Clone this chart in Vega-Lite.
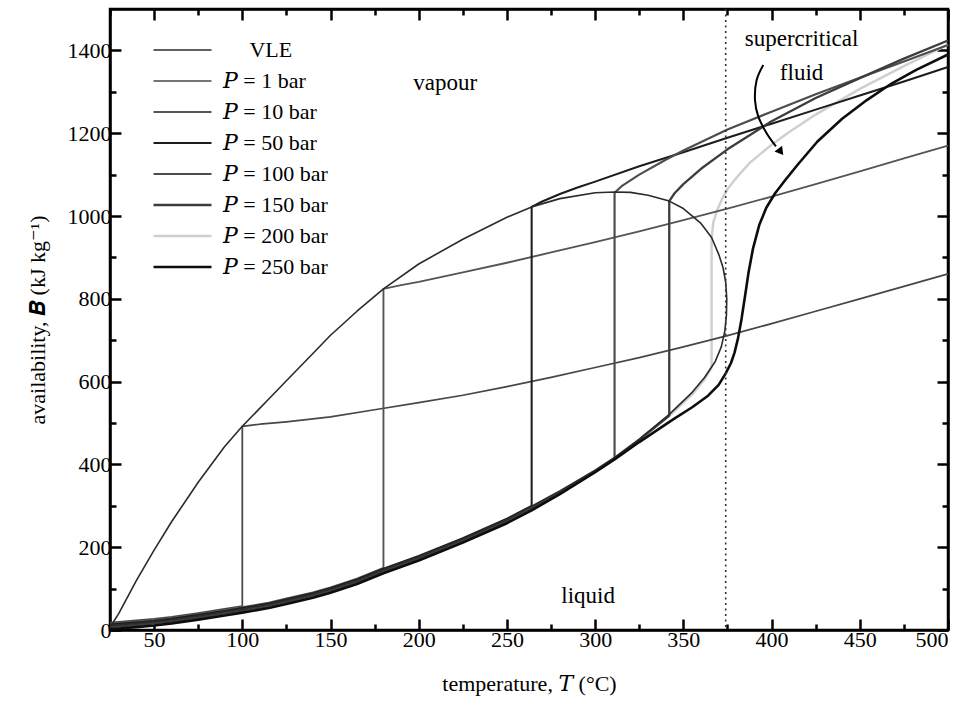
{
  "$schema": "https://vega.github.io/schema/vega-lite/v6.json",
  "width": 838,
  "height": 621,
  "autosize": {"type": "none"},
  "padding": {"left": 110, "top": 9, "right": 26, "bottom": 78},
  "background": "white",
  "config": {
    "font": "Liberation Serif, DejaVu Serif",
    "view": {"stroke": "black", "strokeWidth": 2.5},
    "axis": {
      "grid": false,
      "domainColor": "black",
      "domainWidth": 2.5,
      "tickColor": "black",
      "tickWidth": 2.5,
      "labelFont": "Liberation Serif, DejaVu Serif",
      "labelFontSize": 22,
      "labelColor": "black",
      "labelOverlap": false,
      "titleFont": "Liberation Serif, DejaVu Serif",
      "titleFontSize": 22,
      "titleFontWeight": "normal",
      "titleColor": "black"
    }
  },
  "datasets": {
    "curves": [
      {"s": "𝑃 = 200 bar", "T": 25, "B": 4}, {"s": "𝑃 = 200 bar", "T": 40, "B": 9}, {"s": "𝑃 = 200 bar", "T": 50, "B": 13}, {"s": "𝑃 = 200 bar", "T": 60, "B": 18}, {"s": "𝑃 = 200 bar", "T": 75, "B": 27}, {"s": "𝑃 = 200 bar", "T": 90, "B": 37}, {"s": "𝑃 = 200 bar", "T": 100, "B": 44}, {"s": "𝑃 = 200 bar", "T": 115, "B": 55}, {"s": "𝑃 = 200 bar", "T": 125, "B": 65}, {"s": "𝑃 = 200 bar", "T": 140, "B": 80}, {"s": "𝑃 = 200 bar", "T": 150, "B": 92}, {"s": "𝑃 = 200 bar", "T": 165, "B": 113}, {"s": "𝑃 = 200 bar", "T": 180, "B": 139}, {"s": "𝑃 = 200 bar", "T": 200, "B": 170}, {"s": "𝑃 = 200 bar", "T": 225, "B": 213}, {"s": "𝑃 = 200 bar", "T": 250, "B": 260}, {"s": "𝑃 = 200 bar", "T": 264, "B": 291}, {"s": "𝑃 = 200 bar", "T": 280, "B": 330}, {"s": "𝑃 = 200 bar", "T": 300, "B": 382}, {"s": "𝑃 = 200 bar", "T": 311, "B": 413}, {"s": "𝑃 = 200 bar", "T": 325, "B": 458}, {"s": "𝑃 = 200 bar", "T": 342, "B": 517}, {"s": "𝑃 = 200 bar", "T": 355, "B": 569}, {"s": "𝑃 = 200 bar", "T": 362, "B": 605}, {"s": "𝑃 = 200 bar", "T": 366, "B": 634}, {"s": "𝑃 = 200 bar", "T": 366, "B": 948}, {"s": "𝑃 = 200 bar", "T": 367, "B": 985}, {"s": "𝑃 = 200 bar", "T": 369, "B": 1012}, {"s": "𝑃 = 200 bar", "T": 372, "B": 1042}, {"s": "𝑃 = 200 bar", "T": 375, "B": 1065}, {"s": "𝑃 = 200 bar", "T": 380, "B": 1092}, {"s": "𝑃 = 200 bar", "T": 388, "B": 1130}, {"s": "𝑃 = 200 bar", "T": 400, "B": 1172}, {"s": "𝑃 = 200 bar", "T": 410, "B": 1203}, {"s": "𝑃 = 200 bar", "T": 425, "B": 1245}, {"s": "𝑃 = 200 bar", "T": 450, "B": 1307}, {"s": "𝑃 = 200 bar", "T": 475, "B": 1362}, {"s": "𝑃 = 200 bar", "T": 500, "B": 1414},

      {"s": "𝑃 = 1 bar", "T": 25, "B": 18}, {"s": "𝑃 = 1 bar", "T": 40, "B": 23}, {"s": "𝑃 = 1 bar", "T": 50, "B": 27}, {"s": "𝑃 = 1 bar", "T": 60, "B": 32}, {"s": "𝑃 = 1 bar", "T": 75, "B": 41}, {"s": "𝑃 = 1 bar", "T": 90, "B": 51}, {"s": "𝑃 = 1 bar", "T": 100, "B": 58}, {"s": "𝑃 = 1 bar", "T": 100, "B": 492}, {"s": "𝑃 = 1 bar", "T": 110, "B": 497}, {"s": "𝑃 = 1 bar", "T": 125, "B": 503}, {"s": "𝑃 = 1 bar", "T": 150, "B": 515}, {"s": "𝑃 = 1 bar", "T": 175, "B": 532}, {"s": "𝑃 = 1 bar", "T": 200, "B": 549}, {"s": "𝑃 = 1 bar", "T": 225, "B": 567}, {"s": "𝑃 = 1 bar", "T": 250, "B": 588}, {"s": "𝑃 = 1 bar", "T": 275, "B": 610}, {"s": "𝑃 = 1 bar", "T": 300, "B": 634}, {"s": "𝑃 = 1 bar", "T": 325, "B": 658}, {"s": "𝑃 = 1 bar", "T": 350, "B": 684}, {"s": "𝑃 = 1 bar", "T": 375, "B": 711}, {"s": "𝑃 = 1 bar", "T": 400, "B": 740}, {"s": "𝑃 = 1 bar", "T": 425, "B": 770}, {"s": "𝑃 = 1 bar", "T": 450, "B": 800}, {"s": "𝑃 = 1 bar", "T": 475, "B": 830}, {"s": "𝑃 = 1 bar", "T": 500, "B": 860},

      {"s": "𝑃 = 10 bar", "T": 25, "B": 15}, {"s": "𝑃 = 10 bar", "T": 40, "B": 20}, {"s": "𝑃 = 10 bar", "T": 50, "B": 24}, {"s": "𝑃 = 10 bar", "T": 60, "B": 29}, {"s": "𝑃 = 10 bar", "T": 75, "B": 38}, {"s": "𝑃 = 10 bar", "T": 90, "B": 48}, {"s": "𝑃 = 10 bar", "T": 100, "B": 55}, {"s": "𝑃 = 10 bar", "T": 115, "B": 66}, {"s": "𝑃 = 10 bar", "T": 125, "B": 76}, {"s": "𝑃 = 10 bar", "T": 140, "B": 91}, {"s": "𝑃 = 10 bar", "T": 150, "B": 103}, {"s": "𝑃 = 10 bar", "T": 165, "B": 124}, {"s": "𝑃 = 10 bar", "T": 180, "B": 150}, {"s": "𝑃 = 10 bar", "T": 180, "B": 824}, {"s": "𝑃 = 10 bar", "T": 190, "B": 833}, {"s": "𝑃 = 10 bar", "T": 200, "B": 841}, {"s": "𝑃 = 10 bar", "T": 225, "B": 864}, {"s": "𝑃 = 10 bar", "T": 250, "B": 887}, {"s": "𝑃 = 10 bar", "T": 275, "B": 912}, {"s": "𝑃 = 10 bar", "T": 300, "B": 937}, {"s": "𝑃 = 10 bar", "T": 325, "B": 963}, {"s": "𝑃 = 10 bar", "T": 350, "B": 990}, {"s": "𝑃 = 10 bar", "T": 375, "B": 1018}, {"s": "𝑃 = 10 bar", "T": 400, "B": 1047}, {"s": "𝑃 = 10 bar", "T": 425, "B": 1077}, {"s": "𝑃 = 10 bar", "T": 450, "B": 1108}, {"s": "𝑃 = 10 bar", "T": 475, "B": 1139}, {"s": "𝑃 = 10 bar", "T": 500, "B": 1170},

      {"s": "𝑃 = 50 bar", "T": 25, "B": 13}, {"s": "𝑃 = 50 bar", "T": 40, "B": 18}, {"s": "𝑃 = 50 bar", "T": 50, "B": 22}, {"s": "𝑃 = 50 bar", "T": 60, "B": 27}, {"s": "𝑃 = 50 bar", "T": 75, "B": 36}, {"s": "𝑃 = 50 bar", "T": 90, "B": 46}, {"s": "𝑃 = 50 bar", "T": 100, "B": 53}, {"s": "𝑃 = 50 bar", "T": 115, "B": 64}, {"s": "𝑃 = 50 bar", "T": 125, "B": 74}, {"s": "𝑃 = 50 bar", "T": 140, "B": 89}, {"s": "𝑃 = 50 bar", "T": 150, "B": 101}, {"s": "𝑃 = 50 bar", "T": 165, "B": 122}, {"s": "𝑃 = 50 bar", "T": 180, "B": 148}, {"s": "𝑃 = 50 bar", "T": 200, "B": 179}, {"s": "𝑃 = 50 bar", "T": 225, "B": 222}, {"s": "𝑃 = 50 bar", "T": 250, "B": 269}, {"s": "𝑃 = 50 bar", "T": 264, "B": 300}, {"s": "𝑃 = 50 bar", "T": 264, "B": 1022}, {"s": "𝑃 = 50 bar", "T": 270, "B": 1035}, {"s": "𝑃 = 50 bar", "T": 280, "B": 1053}, {"s": "𝑃 = 50 bar", "T": 290, "B": 1069}, {"s": "𝑃 = 50 bar", "T": 300, "B": 1083}, {"s": "𝑃 = 50 bar", "T": 325, "B": 1120}, {"s": "𝑃 = 50 bar", "T": 350, "B": 1154}, {"s": "𝑃 = 50 bar", "T": 375, "B": 1189}, {"s": "𝑃 = 50 bar", "T": 400, "B": 1223}, {"s": "𝑃 = 50 bar", "T": 425, "B": 1257}, {"s": "𝑃 = 50 bar", "T": 450, "B": 1291}, {"s": "𝑃 = 50 bar", "T": 475, "B": 1325}, {"s": "𝑃 = 50 bar", "T": 500, "B": 1360},

      {"s": "𝑃 = 100 bar", "T": 25, "B": 9}, {"s": "𝑃 = 100 bar", "T": 40, "B": 14}, {"s": "𝑃 = 100 bar", "T": 50, "B": 18}, {"s": "𝑃 = 100 bar", "T": 60, "B": 23}, {"s": "𝑃 = 100 bar", "T": 75, "B": 32}, {"s": "𝑃 = 100 bar", "T": 90, "B": 42}, {"s": "𝑃 = 100 bar", "T": 100, "B": 49}, {"s": "𝑃 = 100 bar", "T": 115, "B": 60}, {"s": "𝑃 = 100 bar", "T": 125, "B": 70}, {"s": "𝑃 = 100 bar", "T": 140, "B": 85}, {"s": "𝑃 = 100 bar", "T": 150, "B": 97}, {"s": "𝑃 = 100 bar", "T": 165, "B": 118}, {"s": "𝑃 = 100 bar", "T": 180, "B": 144}, {"s": "𝑃 = 100 bar", "T": 200, "B": 175}, {"s": "𝑃 = 100 bar", "T": 225, "B": 218}, {"s": "𝑃 = 100 bar", "T": 250, "B": 265}, {"s": "𝑃 = 100 bar", "T": 264, "B": 296}, {"s": "𝑃 = 100 bar", "T": 280, "B": 334}, {"s": "𝑃 = 100 bar", "T": 300, "B": 384}, {"s": "𝑃 = 100 bar", "T": 311, "B": 415}, {"s": "𝑃 = 100 bar", "T": 311, "B": 1056}, {"s": "𝑃 = 100 bar", "T": 315, "B": 1072}, {"s": "𝑃 = 100 bar", "T": 325, "B": 1100}, {"s": "𝑃 = 100 bar", "T": 340, "B": 1136}, {"s": "𝑃 = 100 bar", "T": 350, "B": 1158}, {"s": "𝑃 = 100 bar", "T": 375, "B": 1209}, {"s": "𝑃 = 100 bar", "T": 400, "B": 1252}, {"s": "𝑃 = 100 bar", "T": 425, "B": 1294}, {"s": "𝑃 = 100 bar", "T": 450, "B": 1334}, {"s": "𝑃 = 100 bar", "T": 475, "B": 1373}, {"s": "𝑃 = 100 bar", "T": 500, "B": 1413},

      {"s": "𝑃 = 150 bar", "T": 25, "B": 7}, {"s": "𝑃 = 150 bar", "T": 40, "B": 12}, {"s": "𝑃 = 150 bar", "T": 50, "B": 16}, {"s": "𝑃 = 150 bar", "T": 60, "B": 21}, {"s": "𝑃 = 150 bar", "T": 75, "B": 30}, {"s": "𝑃 = 150 bar", "T": 90, "B": 40}, {"s": "𝑃 = 150 bar", "T": 100, "B": 47}, {"s": "𝑃 = 150 bar", "T": 115, "B": 58}, {"s": "𝑃 = 150 bar", "T": 125, "B": 68}, {"s": "𝑃 = 150 bar", "T": 140, "B": 83}, {"s": "𝑃 = 150 bar", "T": 150, "B": 95}, {"s": "𝑃 = 150 bar", "T": 165, "B": 116}, {"s": "𝑃 = 150 bar", "T": 180, "B": 142}, {"s": "𝑃 = 150 bar", "T": 200, "B": 173}, {"s": "𝑃 = 150 bar", "T": 225, "B": 216}, {"s": "𝑃 = 150 bar", "T": 250, "B": 263}, {"s": "𝑃 = 150 bar", "T": 264, "B": 294}, {"s": "𝑃 = 150 bar", "T": 280, "B": 332}, {"s": "𝑃 = 150 bar", "T": 300, "B": 383}, {"s": "𝑃 = 150 bar", "T": 311, "B": 414}, {"s": "𝑃 = 150 bar", "T": 325, "B": 459}, {"s": "𝑃 = 150 bar", "T": 342, "B": 518}, {"s": "𝑃 = 150 bar", "T": 342, "B": 1036}, {"s": "𝑃 = 150 bar", "T": 345, "B": 1055}, {"s": "𝑃 = 150 bar", "T": 350, "B": 1077}, {"s": "𝑃 = 150 bar", "T": 360, "B": 1114}, {"s": "𝑃 = 150 bar", "T": 375, "B": 1161}, {"s": "𝑃 = 150 bar", "T": 400, "B": 1229}, {"s": "𝑃 = 150 bar", "T": 425, "B": 1285}, {"s": "𝑃 = 150 bar", "T": 450, "B": 1333}, {"s": "𝑃 = 150 bar", "T": 475, "B": 1380}, {"s": "𝑃 = 150 bar", "T": 500, "B": 1424},

      {"s": "\u200b\u2003\u2009VLE", "T": 25, "B": 6}, {"s": "\u200b\u2003\u2009VLE", "T": 30, "B": 40}, {"s": "\u200b\u2003\u2009VLE", "T": 40, "B": 120}, {"s": "\u200b\u2003\u2009VLE", "T": 50, "B": 193}, {"s": "\u200b\u2003\u2009VLE", "T": 60, "B": 262}, {"s": "\u200b\u2003\u2009VLE", "T": 75, "B": 357}, {"s": "\u200b\u2003\u2009VLE", "T": 90, "B": 443}, {"s": "\u200b\u2003\u2009VLE", "T": 100, "B": 492}, {"s": "\u200b\u2003\u2009VLE", "T": 115, "B": 558}, {"s": "\u200b\u2003\u2009VLE", "T": 125, "B": 602}, {"s": "\u200b\u2003\u2009VLE", "T": 140, "B": 668}, {"s": "\u200b\u2003\u2009VLE", "T": 150, "B": 712}, {"s": "\u200b\u2003\u2009VLE", "T": 165, "B": 770}, {"s": "\u200b\u2003\u2009VLE", "T": 180, "B": 824}, {"s": "\u200b\u2003\u2009VLE", "T": 200, "B": 884}, {"s": "\u200b\u2003\u2009VLE", "T": 225, "B": 944}, {"s": "\u200b\u2003\u2009VLE", "T": 250, "B": 997}, {"s": "\u200b\u2003\u2009VLE", "T": 264, "B": 1022}, {"s": "\u200b\u2003\u2009VLE", "T": 280, "B": 1042}, {"s": "\u200b\u2003\u2009VLE", "T": 300, "B": 1056}, {"s": "\u200b\u2003\u2009VLE", "T": 311, "B": 1058}, {"s": "\u200b\u2003\u2009VLE", "T": 320, "B": 1057}, {"s": "\u200b\u2003\u2009VLE", "T": 330, "B": 1050}, {"s": "\u200b\u2003\u2009VLE", "T": 342, "B": 1036}, {"s": "\u200b\u2003\u2009VLE", "T": 350, "B": 1018}, {"s": "\u200b\u2003\u2009VLE", "T": 360, "B": 982}, {"s": "\u200b\u2003\u2009VLE", "T": 366, "B": 948}, {"s": "\u200b\u2003\u2009VLE", "T": 370, "B": 908}, {"s": "\u200b\u2003\u2009VLE", "T": 372.5, "B": 875}, {"s": "\u200b\u2003\u2009VLE", "T": 374, "B": 840}, {"s": "\u200b\u2003\u2009VLE", "T": 374.6, "B": 800}, {"s": "\u200b\u2003\u2009VLE", "T": 374.4, "B": 760}, {"s": "\u200b\u2003\u2009VLE", "T": 373.5, "B": 722}, {"s": "\u200b\u2003\u2009VLE", "T": 371.5, "B": 684}, {"s": "\u200b\u2003\u2009VLE", "T": 368, "B": 648}, {"s": "\u200b\u2003\u2009VLE", "T": 362, "B": 610}, {"s": "\u200b\u2003\u2009VLE", "T": 355, "B": 574}, {"s": "\u200b\u2003\u2009VLE", "T": 342, "B": 521}, {"s": "\u200b\u2003\u2009VLE", "T": 325, "B": 461}, {"s": "\u200b\u2003\u2009VLE", "T": 311, "B": 417}, {"s": "\u200b\u2003\u2009VLE", "T": 300, "B": 386}, {"s": "\u200b\u2003\u2009VLE", "T": 280, "B": 336}, {"s": "\u200b\u2003\u2009VLE", "T": 264, "B": 299}, {"s": "\u200b\u2003\u2009VLE", "T": 250, "B": 267}, {"s": "\u200b\u2003\u2009VLE", "T": 225, "B": 220}, {"s": "\u200b\u2003\u2009VLE", "T": 200, "B": 177}, {"s": "\u200b\u2003\u2009VLE", "T": 180, "B": 146}, {"s": "\u200b\u2003\u2009VLE", "T": 165, "B": 120}, {"s": "\u200b\u2003\u2009VLE", "T": 150, "B": 99}, {"s": "\u200b\u2003\u2009VLE", "T": 140, "B": 87}, {"s": "\u200b\u2003\u2009VLE", "T": 125, "B": 72}, {"s": "\u200b\u2003\u2009VLE", "T": 115, "B": 62}, {"s": "\u200b\u2003\u2009VLE", "T": 100, "B": 51}, {"s": "\u200b\u2003\u2009VLE", "T": 90, "B": 44}, {"s": "\u200b\u2003\u2009VLE", "T": 75, "B": 34}, {"s": "\u200b\u2003\u2009VLE", "T": 60, "B": 25}, {"s": "\u200b\u2003\u2009VLE", "T": 50, "B": 20}, {"s": "\u200b\u2003\u2009VLE", "T": 40, "B": 16}, {"s": "\u200b\u2003\u2009VLE", "T": 25, "B": 11},

      {"s": "𝑃 = 250 bar", "T": 25, "B": 2}, {"s": "𝑃 = 250 bar", "T": 40, "B": 7}, {"s": "𝑃 = 250 bar", "T": 50, "B": 11}, {"s": "𝑃 = 250 bar", "T": 60, "B": 16}, {"s": "𝑃 = 250 bar", "T": 75, "B": 25}, {"s": "𝑃 = 250 bar", "T": 90, "B": 35}, {"s": "𝑃 = 250 bar", "T": 100, "B": 42}, {"s": "𝑃 = 250 bar", "T": 115, "B": 53}, {"s": "𝑃 = 250 bar", "T": 125, "B": 63}, {"s": "𝑃 = 250 bar", "T": 140, "B": 78}, {"s": "𝑃 = 250 bar", "T": 150, "B": 90}, {"s": "𝑃 = 250 bar", "T": 165, "B": 111}, {"s": "𝑃 = 250 bar", "T": 180, "B": 137}, {"s": "𝑃 = 250 bar", "T": 200, "B": 168}, {"s": "𝑃 = 250 bar", "T": 225, "B": 211}, {"s": "𝑃 = 250 bar", "T": 250, "B": 258}, {"s": "𝑃 = 250 bar", "T": 264, "B": 289}, {"s": "𝑃 = 250 bar", "T": 280, "B": 328}, {"s": "𝑃 = 250 bar", "T": 300, "B": 381}, {"s": "𝑃 = 250 bar", "T": 311, "B": 412}, {"s": "𝑃 = 250 bar", "T": 325, "B": 454}, {"s": "𝑃 = 250 bar", "T": 344, "B": 508}, {"s": "𝑃 = 250 bar", "T": 355, "B": 538}, {"s": "𝑃 = 250 bar", "T": 364, "B": 566}, {"s": "𝑃 = 250 bar", "T": 370, "B": 592}, {"s": "𝑃 = 250 bar", "T": 374, "B": 620}, {"s": "𝑃 = 250 bar", "T": 377, "B": 645}, {"s": "𝑃 = 250 bar", "T": 379, "B": 670}, {"s": "𝑃 = 250 bar", "T": 381, "B": 705}, {"s": "𝑃 = 250 bar", "T": 383, "B": 752}, {"s": "𝑃 = 250 bar", "T": 385, "B": 808}, {"s": "𝑃 = 250 bar", "T": 387, "B": 865}, {"s": "𝑃 = 250 bar", "T": 389.5, "B": 922}, {"s": "𝑃 = 250 bar", "T": 393, "B": 978}, {"s": "𝑃 = 250 bar", "T": 397, "B": 1020}, {"s": "𝑃 = 250 bar", "T": 402, "B": 1055}, {"s": "𝑃 = 250 bar", "T": 408, "B": 1088}, {"s": "𝑃 = 250 bar", "T": 415, "B": 1125}, {"s": "𝑃 = 250 bar", "T": 426, "B": 1180}, {"s": "𝑃 = 250 bar", "T": 440, "B": 1235}, {"s": "𝑃 = 250 bar", "T": 454, "B": 1280}, {"s": "𝑃 = 250 bar", "T": 468, "B": 1320}, {"s": "𝑃 = 250 bar", "T": 482, "B": 1353}, {"s": "𝑃 = 250 bar", "T": 500, "B": 1390}
    ],
    "labels": [
      {"t": "vapour", "T": 215, "B": 1321},
      {"t": "liquid", "T": 296, "B": 82},
      {"t": "supercritical", "T": 417, "B": 1428},
      {"t": "fluid", "T": 417, "B": 1345}
    ],
    "arrow": [
      {"T": 395.3, "B": 1365},
      {"T": 391.5, "B": 1328},
      {"T": 390.6, "B": 1280},
      {"T": 392.5, "B": 1240},
      {"T": 397.2, "B": 1200},
      {"T": 402.5, "B": 1168}
    ],
    "arrowTip": [{"T": 405.2, "B": 1155}],
    "critical": [{"Tc": 374}]
  },
  "layer": [
    {
      "data": {"name": "curves"},
      "mark": {"type": "line", "strokeJoin": "round", "strokeCap": "butt"},
      "encoding": {
        "x": {
          "field": "T", "type": "quantitative",
          "scale": {"domain": [25, 500], "nice": false, "zero": false},
          "axis": {
            "orient": "bottom",
            "values": [25, 50, 75, 100, 125, 150, 175, 200, 225, 250, 275, 300, 325, 350, 375, 400, 425, 450, 475, 500],
            "labelExpr": "datum.value % 50 === 0 ? datum.label : ''",
            "format": "d",
            "tickSize": {"condition": {"test": "datum.value % 50 === 0", "value": -11}, "value": -6},
            "labelPadding": 10,
            "title": "temperature, 𝑇 (°C)",
            "titlePadding": 18
          }
        },
        "y": {
          "field": "B", "type": "quantitative",
          "scale": {"domain": [0, 1500], "nice": false},
          "axis": {
            "orient": "left",
            "values": [0, 100, 200, 300, 400, 500, 600, 700, 800, 900, 1000, 1100, 1200, 1300, 1400],
            "labelExpr": "datum.value % 200 === 0 ? datum.label : ''",
            "format": "d",
            "tickSize": {"condition": {"test": "datum.value % 200 === 0", "value": -11}, "value": -6},
            "labelPadding": 10,
            "title": "availability, 𝑩 (kJ kg⁻¹)",
            "titlePadding": 18
          }
        },
        "color": {
          "field": "s", "type": "nominal",
          "scale": {
            "domain": ["\u200b\u2003\u2009VLE", "𝑃 = 1 bar", "𝑃 = 10 bar", "𝑃 = 50 bar", "𝑃 = 100 bar", "𝑃 = 150 bar", "𝑃 = 200 bar", "𝑃 = 250 bar"],
            "range": ["#2b2b2b", "#474747", "#555555", "#1c1c1c", "#4d4d4d", "#3d3d3d", "#cfcfcf", "#0d0d0d"]
          },
          "legend": {
            "title": null, "orient": "none", "legendX": 42, "legendY": 30,
            "symbolType": "stroke", "symbolSize": 3364, "clipHeight": 22,
            "labelFont": "Liberation Serif, DejaVu Serif", "labelFontSize": 22, "labelColor": "black",
            "rowPadding": 9, "labelOffset": 10, "padding": 0
          }
        },
        "strokeWidth": {
          "field": "s", "type": "nominal",
          "scale": {
            "domain": ["\u200b\u2003\u2009VLE", "𝑃 = 1 bar", "𝑃 = 10 bar", "𝑃 = 50 bar", "𝑃 = 100 bar", "𝑃 = 150 bar", "𝑃 = 200 bar", "𝑃 = 250 bar"],
            "range": [1.6, 2.6, 2, 2.4, 2.2, 2, 1.8, 2.8]
          },
          "legend": {
            "title": null, "orient": "none", "legendX": 42, "legendY": 30,
            "symbolType": "stroke", "symbolSize": 3364, "clipHeight": 22,
            "labelFont": "Liberation Serif, DejaVu Serif", "labelFontSize": 22, "labelColor": "black",
            "rowPadding": 9, "labelOffset": 10, "padding": 0
          }
        },
        "order": {"value": null}
      }
    },
    {
      "data": {"name": "critical"},
      "mark": {"type": "rule", "color": "#333333", "strokeWidth": 1.6, "strokeDash": [2, 3.5]},
      "encoding": {
        "x": {
          "field": "Tc", "type": "quantitative",
          "scale": {"domain": [25, 500], "nice": false, "zero": false},
          "axis": {
            "orient": "top",
            "values": [25, 50, 75, 100, 125, 150, 175, 200, 225, 250, 275, 300, 325, 350, 375, 400, 425, 450, 475, 500],
            "labels": false,
            "title": null,
            "tickSize": {"condition": {"test": "datum.value % 50 === 0", "value": -11}, "value": -6}
          }
        }
      }
    },
    {
      "data": {"name": "labels"},
      "mark": {"type": "text", "font": "Liberation Serif, DejaVu Serif", "fontSize": 23, "color": "black", "align": "center", "baseline": "middle"},
      "encoding": {
        "x": {"field": "T", "type": "quantitative", "scale": {"domain": [25, 500], "nice": false, "zero": false}, "axis": null},
        "y": {
          "field": "B", "type": "quantitative",
          "scale": {"domain": [0, 1500], "nice": false},
          "axis": {
            "orient": "right",
            "values": [0, 100, 200, 300, 400, 500, 600, 700, 800, 900, 1000, 1100, 1200, 1300, 1400],
            "labels": false,
            "title": null,
            "tickSize": {"condition": {"test": "datum.value % 200 === 0", "value": -11}, "value": -6}
          }
        },
        "text": {"field": "t"}
      }
    },
    {
      "data": {"name": "arrow"},
      "mark": {"type": "line", "color": "black", "strokeWidth": 2, "interpolate": "cardinal"},
      "encoding": {
        "x": {"field": "T", "type": "quantitative", "scale": {"domain": [25, 500], "nice": false, "zero": false}, "axis": null},
        "y": {"field": "B", "type": "quantitative", "scale": {"domain": [0, 1500], "nice": false}, "axis": null},
        "order": {"value": null}
      }
    },
    {
      "data": {"name": "arrowTip"},
      "mark": {"type": "point", "shape": "triangle-down", "filled": true, "color": "black", "size": 90, "angle": 323, "opacity": 1},
      "encoding": {
        "x": {"field": "T", "type": "quantitative", "scale": {"domain": [25, 500], "nice": false, "zero": false}, "axis": null},
        "y": {"field": "B", "type": "quantitative", "scale": {"domain": [0, 1500], "nice": false}, "axis": null}
      }
    }
  ],
  "resolve": {"axis": {"x": "independent", "y": "independent"}}
}
